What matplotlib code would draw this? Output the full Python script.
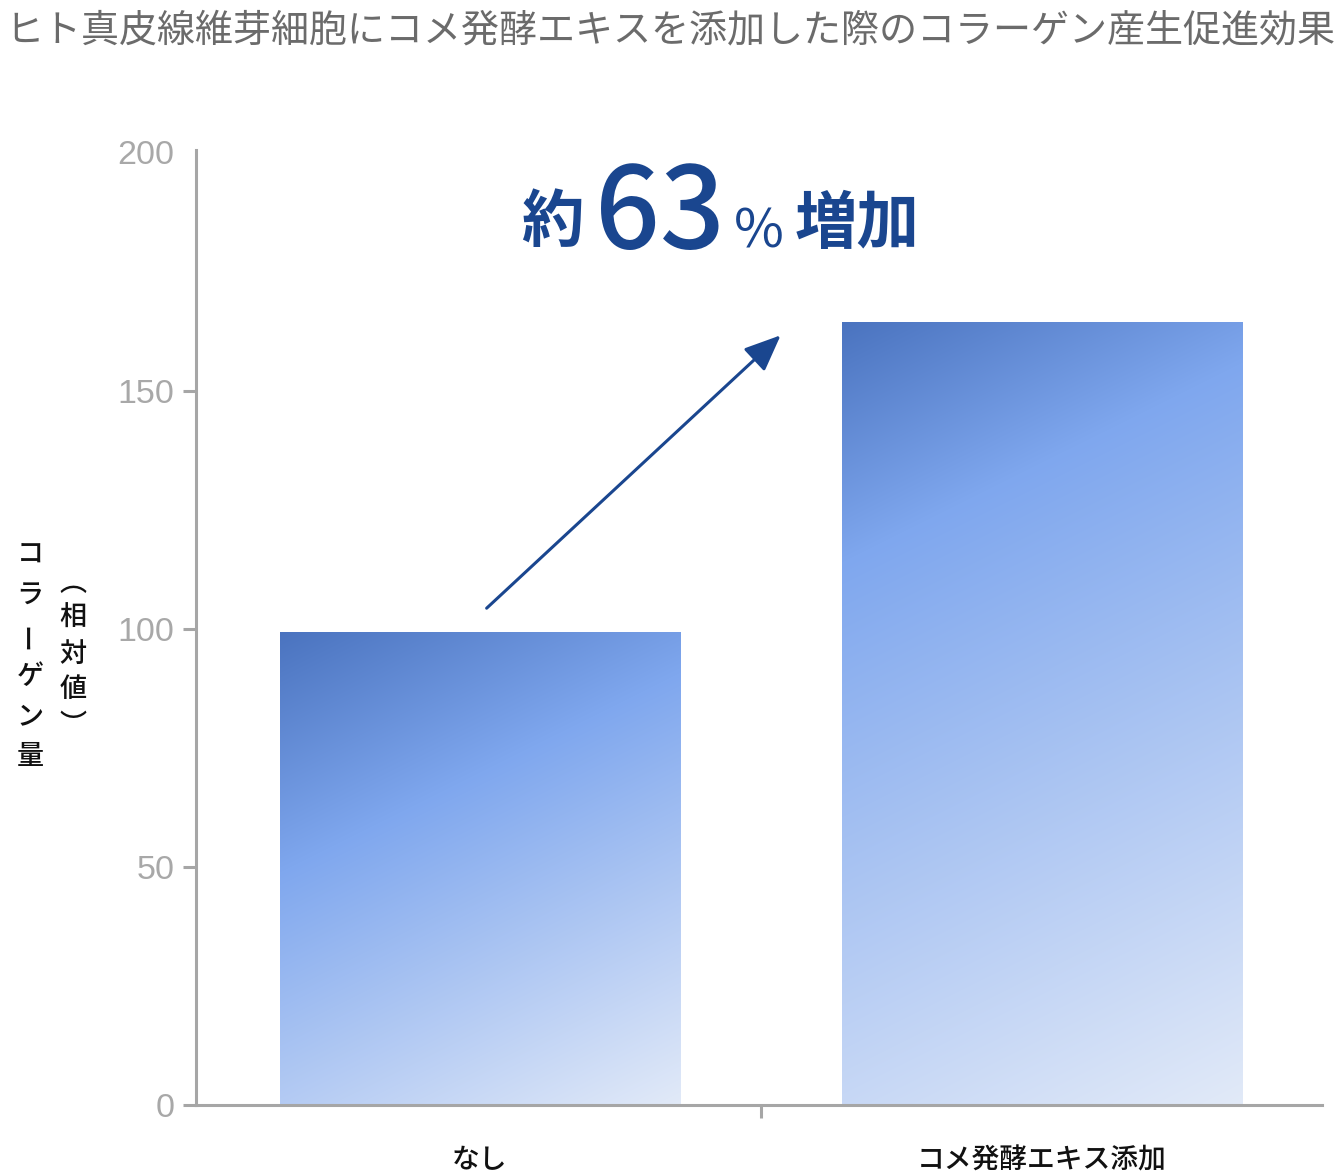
import matplotlib
matplotlib.use("Agg")
import matplotlib.pyplot as plt
from matplotlib.colors import to_rgb
import numpy as np

plt.rcParams['font.family'] = ['Noto Sans CJK JP', 'DejaVu Sans']

# ---- datos ----
titulo = "ヒト真皮線維芽細胞にコメ発酵エキスを添加した際のコラーゲン産生促進効果"
categorias = ["なし", "コメ発酵エキス添加"]
valores = [99.3, 164.3]
yticks = [0, 50, 100, 150, 200]
etiqueta_y1 = ["コ", "ラ", "ー", "ゲ", "ン", "量"]
etiqueta_y2 = ["︵", "相", "対", "値", "︶"]
anotacion = [("約", 45, "bold"), ("63", 82, "medium"), ("%", 39, "normal"), ("増加", 45, "bold")]

AZUL = "#1a468f"
GRIS = "#a6a6a6"
W, H = 1336, 1174

fig = plt.figure(figsize=(W / 100, H / 100), dpi=100)
ax = fig.add_axes([196 / W, 1 - 1105 / H, (1322 - 196) / W, (1105 - 150) / H])
ax.set_xlim(-0.505, 1.498)
ax.set_ylim(0, 200.5)

for s in ["top", "right"]:
    ax.spines[s].set_visible(False)
for s in ["left", "bottom"]:
    ax.spines[s].set_color(GRIS)
    ax.spines[s].set_linewidth(2.2)

ax.set_yticks(yticks)
ax.tick_params(axis="y", length=9.5, width=2.2, color=GRIS, pad=6,
               labelsize=24.5, labelcolor="#a8a8a8")
for lb in ax.get_yticklabels():
    lb.set_fontfamily("Liberation Sans")
ax.yaxis.get_major_ticks()[-1].tick1line.set_visible(False)

ax.set_xticks(range(len(categorias)))
ax.set_xticklabels(categorias, fontsize=20, fontweight="medium", color="#111111")
ax.tick_params(axis="x", length=0, pad=29)
ax.set_xticks([0.5], minor=True)
ax.tick_params(axis="x", which="minor", length=9.5, width=2.2, color=GRIS)

# ---- barras con degradado ----
oscuro = np.array(to_rgb("#4a73bf"))
brillante = np.array(to_rgb("#7fa7ee"))
claro = np.array(to_rgb("#e2eaf8"))
direc = np.array([0.5, 1.0]) / np.hypot(0.5, 1.0)
D = 215.0

barras = ax.bar(range(len(categorias)), valores, width=0.712, color="none", zorder=2)
for b in barras:
    x0, y0 = b.get_x(), b.get_y()
    x1, y1 = x0 + b.get_width(), y0 + b.get_height()
    (px0, py0), (px1, py1) = ax.transData.transform([(x0, y0), (x1, y1)])
    bw, bh = int(round(px1 - px0)), int(round(py1 - py0))
    xx, yy = np.meshgrid(np.arange(bw) + 0.5, np.arange(bh) + 0.5)
    p = xx * direc[0] + yy * direc[1]
    pmax = bw * direc[0] + bh * direc[1]
    t1 = np.clip(p / D, 0, 1)[..., None]
    t2 = np.clip((p - D) / (pmax - D), 0, 1)[..., None]
    img = np.where(p[..., None] < D,
                   oscuro + (brillante - oscuro) * t1,
                   brillante + (claro - brillante) * t2)
    im = ax.imshow(img, extent=[x0, x1, y0, y1], origin="upper",
                   aspect="auto", interpolation="bilinear", zorder=2)
    im.set_clip_path(b)

ax.set_xlim(-0.505, 1.498)
ax.set_ylim(0, 200.5)

# ---- flecha ----
ax.annotate("", xy=(0.535, valores[1] - 2.7), xytext=(0.012, valores[0] + 5),
            arrowprops=dict(arrowstyle="-|>,head_length=0.4,head_width=0.17",
                            mutation_scale=56, color=AZUL, lw=2.2,
                            shrinkA=0, shrinkB=0), zorder=3)

# ---- textos ----
fig.text(5 / W, 1 - 41 / H, titulo, fontsize=27.4, color="#6b6b6b", ha="left", va="baseline")

centros = [552, 660, 759, 857]
bases = [241, 248, 247, 243]
for (txt, fs, fw), cx, by in zip(anotacion, centros, bases):
    fig.text(cx / W, 1 - by / H, txt, fontsize=fs, fontweight=fw, color=AZUL,
             ha="center", va="baseline")

for i, ch in enumerate(etiqueta_y1):
    rot = 90 if ch == "ー" else 0
    fig.text(30 / W, 1 - (555 + i * 40.4) / H, ch, fontsize=19.5, fontweight="medium",
             color="#111111", ha="center", va="center", rotation=rot)
for i, ch in enumerate(etiqueta_y2):
    fig.text(73 / W, 1 - (583 + i * 35.5) / H, ch, fontsize=19.5, fontweight="medium",
             color="#111111", ha="center", va="center")

fig.savefig("out.png", dpi=100)
